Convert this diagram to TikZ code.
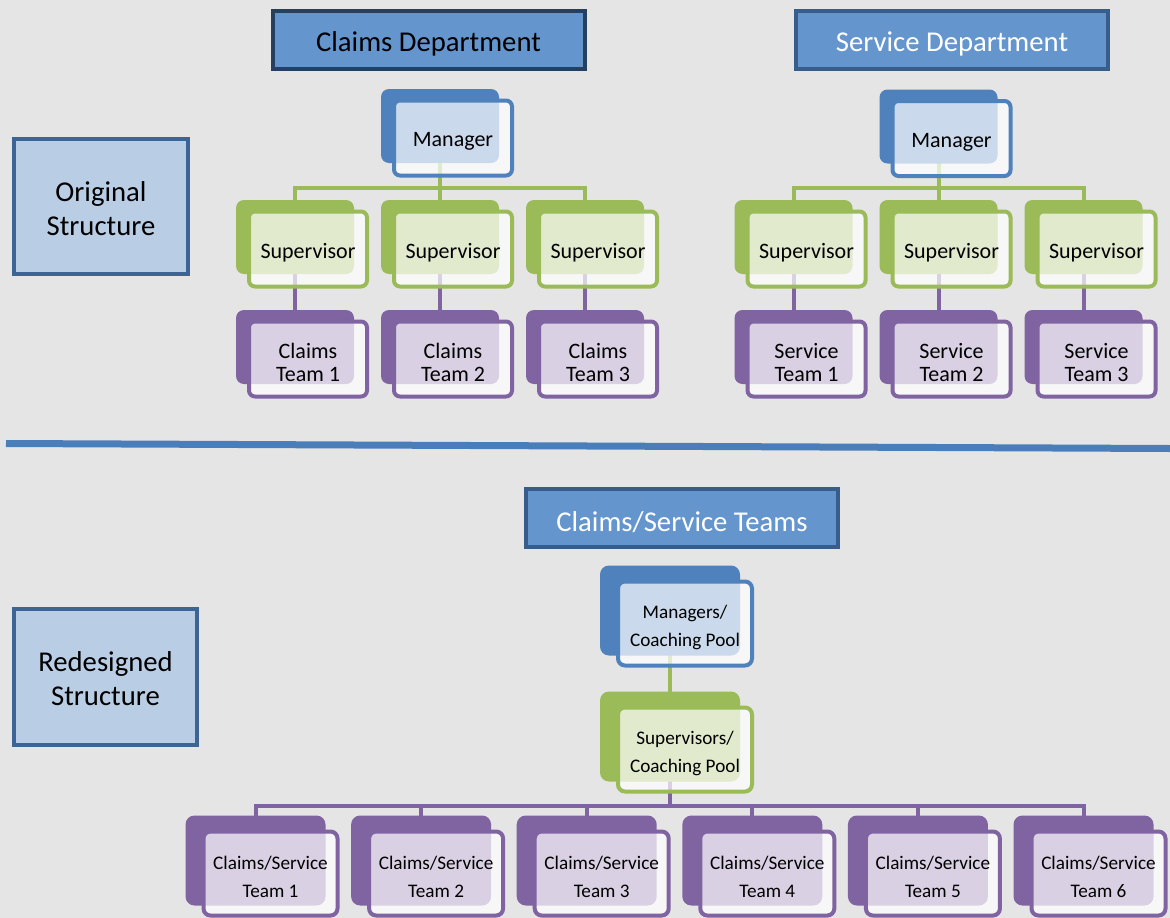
\documentclass[tikz,border=0pt]{standalone}
\usepackage{fontspec}
\setmainfont{Carlito}
\usetikzlibrary{calc}
\definecolor{bggray}{HTML}{E5E5E5}
\definecolor{mgrblue}{HTML}{4F81BD}
\definecolor{supgreen}{HTML}{9BBB59}
\definecolor{teampurple}{HTML}{8064A2}
\definecolor{deptfill}{HTML}{6595CD}
\definecolor{deptdark}{HTML}{243F60}
\definecolor{deptmid}{HTML}{385D8A}
\definecolor{lblfill}{HTML}{B9CDE5}
\definecolor{lbldraw}{HTML}{3C6494}
\definecolor{divider}{HTML}{4A7EBB}
\pgfdeclarelayer{canvas}
\pgfdeclarelayer{links}
\pgfsetlayers{canvas,links,main}
\newcommand{\pairbox}[5]{%
  \node[#5back=#3] (#1b) at (#2) {};
  \node[#5front=#3] (#1) at (#2) {};
  \node[#5text] (#1t) at ([yshift=-3.5pt]#1.center) {#4};}
\begin{document}
\begin{tikzpicture}[x=1pt,y=-1pt,
  smallback/.style={fill=#1, rounded corners=8pt, inner sep=0pt,
    minimum width=118pt, minimum height=74pt, xshift=-13pt, yshift=12pt},
  smallfront/.style={draw=#1, line width=4pt, fill=white, fill opacity=0.7,
    rounded corners=6pt, inner sep=0pt, minimum width=118pt, minimum height=75pt},
  smalltext/.style={inner sep=0pt, align=center, font=\fontsize{22}{23}\selectfont},
  bigback/.style={fill=#1, rounded corners=9pt, inner sep=0pt,
    minimum width=140pt, minimum height=90pt, xshift=-15pt, yshift=13pt},
  bigfront/.style={draw=#1, line width=4pt, fill=white, fill opacity=0.7,
    rounded corners=7pt, inner sep=0pt, minimum width=134pt, minimum height=84pt},
  bigtext/.style={inner sep=0pt, align=center, font=\fontsize{19.2}{28}\selectfont},
  dept/.style={draw=#1, line width=4pt, fill=deptfill, inner sep=0pt,
    minimum width=312pt, minimum height=58pt},
  depttext/.style={inner sep=0pt, font=\fontsize{28.7}{34}\selectfont},
  lbl/.style={draw=lbldraw, line width=4pt, fill=lblfill, inner sep=0pt},
  lbltext/.style={inner sep=0pt, align=center, font=\fontsize{28.7}{34}\selectfont},
  lnk/.style={draw=#1, line width=4pt}
]
\begin{pgfonlayer}{canvas}
  \fill[bggray] (0,0) rectangle (1170,918);
\end{pgfonlayer}
\useasboundingbox (0,0) rectangle (1170,918);

% side labels
\node[lbl, minimum width=174pt, minimum height=135pt] (orig) at (101,206.5) {};
\node[lbltext] (origt) at ([yshift=-2pt]orig.center) {Original\\Structure};
\node[lbl, minimum width=183pt, minimum height=136pt] (redes) at (105.5,677) {};
\node[lbltext] (redest) at ([yshift=-2pt]redes.center) {Redesigned\\Structure};

% department titles
\node[dept=deptdark] (claimsdept) at (428.5,40) {};
\node[depttext, text=black] (claimsdeptt) at ([yshift=-4pt]claimsdept.center) {Claims Department};
\node[dept=deptmid] (servdept) at (952,40) {};
\node[depttext, text=white] (servdeptt) at ([yshift=-4pt]servdept.center) {Service Department};
\node[dept=deptmid] (csteams) at (682,518) {};
\node[depttext, text=white] (csteamst) at ([yshift=-4pt]csteams.center) {Claims/Service Teams};

% divider
\draw[line width=7pt, divider] (6,443.5) -- (1170,448.5);

% Claims tree
\pairbox{cm}{453,138}{mgrblue}{Manager}{small}
\pairbox{cs1}{308,249}{supgreen}{Supervisor}{small}
\pairbox{cs2}{453,249}{supgreen}{Supervisor}{small}
\pairbox{cs3}{598,249}{supgreen}{Supervisor}{small}
\pairbox{ct1}{308,359}{teampurple}{Claims\\Team 1}{small}
\pairbox{ct2}{453,359}{teampurple}{Claims\\Team 2}{small}
\pairbox{ct3}{598,359}{teampurple}{Claims\\Team 3}{small}

% Service tree
\pairbox{sm}{951.5,138.5}{mgrblue}{Manager}{small}
\pairbox{ss1}{806.5,249}{supgreen}{Supervisor}{small}
\pairbox{ss2}{951.5,249}{supgreen}{Supervisor}{small}
\pairbox{ss3}{1096.5,249}{supgreen}{Supervisor}{small}
\pairbox{st1}{806.5,359}{teampurple}{Service\\Team 1}{small}
\pairbox{st2}{951.5,359}{teampurple}{Service\\Team 2}{small}
\pairbox{st3}{1096.5,359}{teampurple}{Service\\Team 3}{small}

% Redesigned tree
\pairbox{mp}{685,623.5}{mgrblue}{Managers/\\Coaching Pool}{big}
\pairbox{sp}{685,749.5}{supgreen}{Supervisors/\\Coaching Pool}{big}
\foreach \i in {1,...,6}{
  \pairbox{bt\i}{270.5+165.6*\i-165.6,873.5}{teampurple}{Claims/Service\\Team \i}{big}
}

\coordinate (cbar) at (440,188);
\coordinate (sbar) at (938.5,188);
\coordinate (bbar) at (670,806);

\begin{pgfonlayer}{links}
  % claims
  \draw[lnk=supgreen] (cmb.center) -- (cs2b.center);
  \draw[lnk=supgreen] (cs1b.center) |- (cbar) -| (cs3b.center);
  \foreach \i in {1,2,3}{\draw[lnk=teampurple] (cs\i b.center) -- (ct\i b.center);}
  % service
  \draw[lnk=supgreen] (smb.center) -- (ss2b.center);
  \draw[lnk=supgreen] (ss1b.center) |- (sbar) -| (ss3b.center);
  \foreach \i in {1,2,3}{\draw[lnk=teampurple] (ss\i b.center) -- (st\i b.center);}
  % redesigned
  \draw[lnk=supgreen] (mpb.center) -- (spb.center);
  \draw[lnk=teampurple] (spb.center) -- (bbar);
  \draw[lnk=teampurple] (bt1b.center) |- (bbar) -| (bt6b.center);
  \foreach \i in {2,...,5}{\draw[lnk=teampurple] (bt\i b.center) -- (bt\i b.center |- bbar);}
\end{pgfonlayer}
\end{tikzpicture}
\end{document}
